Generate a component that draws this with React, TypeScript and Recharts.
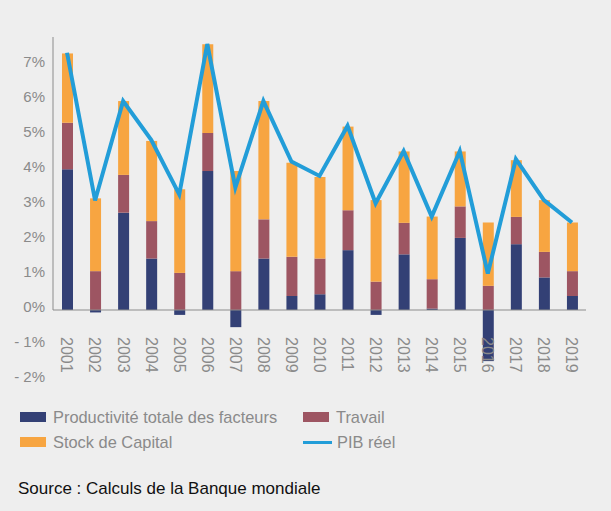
import React from "react";
import {
  ComposedChart,
  Bar,
  Line,
  XAxis,
  YAxis,
  ReferenceLine,
} from "recharts";

const years = ["2001","2002","2003","2004","2005","2006","2007","2008","2009","2010","2011","2012","2013","2014","2015","2016","2017","2018","2019"];
const ptf = [4.02,-0.07,2.78,1.47,-0.14,3.97,-0.49,1.47,0.40,0.45,1.71,-0.14,1.59,0.04,2.06,-1.46,1.88,0.93,0.40];
const travail = [1.33,1.11,1.08,1.07,1.06,1.09,1.11,1.12,1.12,1.02,1.14,0.81,0.90,0.84,0.90,0.69,0.78,0.73,0.71];
const capital = [1.98,2.08,2.11,2.29,2.39,2.53,2.86,3.38,2.69,2.33,2.39,2.33,2.04,1.79,1.57,1.81,1.62,1.48,1.39];
const pib = [7.35,3.13,5.97,4.86,3.30,7.60,3.50,5.97,4.24,3.83,5.26,3.05,4.54,2.67,4.54,1.04,4.31,3.14,2.50];
const yTicks = [-2,-1,0,1,2,3,4,5,6,7];

const seriesNames = {
  ptf: "Productivité totale des facteurs",
  travail: "Travail",
  capital: "Stock de Capital",
  pib: "PIB réel",
};
const sourceText = "Source : Calculs de la Banque mondiale";

const COLORS = {
  ptf: "#334075",
  travail: "#9d5562",
  capital: "#f7a541",
  pib: "#229dd8",
  axis: "#8c8c8c",
  text: "#8a8a8a",
  bg: "#eeeeee",
};

const data = years.map((y, i) => ({
  year: y,
  ptf: ptf[i],
  travail: travail[i],
  capital: capital[i],
  pib: pib[i],
}));

const FONT = "'Liberation Sans', Arial, sans-serif";

const fmtY = (v: number) => (v < 0 ? `- ${Math.abs(v)}%` : `${v}%`);

const YTick = (props: any) => {
  const { x, y, payload } = props;
  return (
    <text x={x} y={y - 3} dy="0.35em" textAnchor="end" fill={COLORS.text} fontSize={15} fontFamily={FONT}>
      {fmtY(payload.value)}
    </text>
  );
};

const XTick = (props: any) => {
  const { x, y, payload } = props;
  return (
    <text
      transform={`translate(${x},${y - 43}) rotate(90)`}
      textAnchor="start"
      dy="0.35em"
      fill={COLORS.text}
      fontSize={16}
      fontFamily={FONT}
    >
      {payload.value}
    </text>
  );
};

const LegendItem = ({ kind, color, label, left, top }: any) => (
  <div style={{ position: "absolute", left, top, height: 20, display: "flex", alignItems: "center" }}>
    {kind === "rect" ? (
      <div style={{ width: 26, height: 10, background: color }} />
    ) : (
      <div style={{ width: 29, height: 3, background: color }} />
    )}
    <span style={{ marginLeft: kind === "rect" ? 7 : 5, color: COLORS.text, fontSize: 16.4, fontFamily: FONT, whiteSpace: "nowrap" }}>
      {label}
    </span>
  </div>
);

export default function App() {
  return (
    <div style={{ position: "absolute", left: 0, top: 0, width: 611, height: 511, background: COLORS.bg, overflow: "hidden" }}>
      <ComposedChart
        width={611}
        height={400}
        data={data}
        stackOffset="sign"
        margin={{ top: 37, right: 25, bottom: 0, left: 0 }}
        barSize={11}
      >
        <XAxis
          dataKey="year"
          axisLine={false}
          tickLine={false}
          tickSize={0}
          tickMargin={0}
          height={20}
          interval={0}
          tick={<XTick />}
        />
        <XAxis xAxisId="num" type="number" domain={[0, 1]} hide />
        <YAxis
          domain={[-2, 7.8]}
          ticks={yTicks}
          axisLine={false}
          tickLine={false}
          width={53}
          tick={<YTick />}
          interval={0}
        />
        <Bar dataKey="ptf" stackId="a" fill={COLORS.ptf} isAnimationActive={false} />
        <Bar dataKey="travail" stackId="a" fill={COLORS.travail} isAnimationActive={false} />
        <Bar dataKey="capital" stackId="a" fill={COLORS.capital} isAnimationActive={false} />
        <ReferenceLine y={0} stroke={COLORS.axis} strokeWidth={1} />
        <ReferenceLine
          xAxisId="num"
          segment={[{ x: 0, y: 0 }, { x: 0, y: 7.8 }]}
          stroke={COLORS.axis}
          strokeWidth={1}
        />
        <Line
          dataKey="pib"
          type="linear"
          stroke={COLORS.pib}
          strokeWidth={4}
          dot={false}
          activeDot={false}
          isAnimationActive={false}
        />
      </ComposedChart>
      <LegendItem kind="rect" color={COLORS.ptf} label={seriesNames.ptf} left={20} top={407} />
      <LegendItem kind="rect" color={COLORS.travail} label={seriesNames.travail} left={303} top={407} />
      <LegendItem kind="rect" color={COLORS.capital} label={seriesNames.capital} left={20} top={432} />
      <LegendItem kind="line" color={COLORS.pib} label={seriesNames.pib} left={303} top={432} />
      <div style={{ position: "absolute", left: 18, top: 479, fontSize: 17, fontFamily: FONT, color: "#111", whiteSpace: "nowrap" }}>
        {sourceText}
      </div>
    </div>
  );
}
